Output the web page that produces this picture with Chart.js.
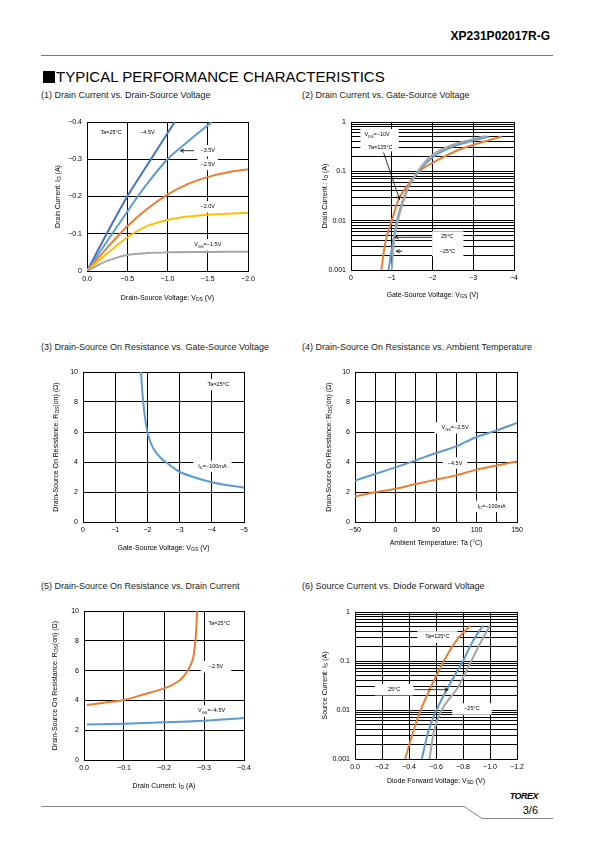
<!DOCTYPE html>
<html>
<head>
<meta charset="utf-8">
<script src="https://cdn.jsdelivr.net/npm/chart.js@4"></script>
<style>
body { margin: 0; background: #fff; }
#page { position: relative; width: 595px; height: 842px; overflow: hidden; font-family: "Liberation Sans", Arial, sans-serif; color: #000; }
.t { position: absolute; white-space: nowrap; line-height: 1; }
.sec { font-size: 9px; color: #222; }
.sq { display: inline-block; width: 12px; height: 12px; background: #000; margin-right: 1px; vertical-align: -1px; }
canvas { position: absolute; }
svg { position: absolute; left: 0; top: 0; }
</style>
</head>
<body>
<div id="page">
  <svg width="595" height="842">
    <line x1="41" y1="55.5" x2="553" y2="55.5" stroke="#777" stroke-width="1"/>
    <polyline points="41,806.5 464,806.5 482,818.5 553,818.5" fill="none" stroke="#888" stroke-width="1"/>
  </svg>
  <div class="t" style="right:45px;top:30px;font-size:12px;font-weight:bold;">XP231P02017R-G</div>
  <div class="t" style="left:43px;top:69px;font-size:15px;"><span class="sq"></span>TYPICAL PERFORMANCE CHARACTERISTICS</div>
  <div class="t sec" style="left:41px;top:91px;">(1) Drain Current vs. Drain-Source Voltage</div>
  <div class="t sec" style="left:302px;top:91px;">(2) Drain Current vs. Gate-Source Voltage</div>
  <div class="t sec" style="left:41px;top:343px;">(3) Drain-Source On Resistance vs. Gate-Source Voltage</div>
  <div class="t sec" style="left:302px;top:343px;">(4) Drain-Source On Resistance vs. Ambient Temperature</div>
  <div class="t sec" style="left:41px;top:582px;">(5) Drain-Source On Resistance vs. Drain Current</div>
  <div class="t sec" style="left:302px;top:582px;">(6) Source Current vs. Diode Forward Voltage</div>
  <div class="t" style="right:57px;top:792px;font-size:9px;font-style:italic;font-weight:bold;letter-spacing:-0.5px;">TOREX</div>
  <div class="t" style="right:57px;top:805px;font-size:11px;">3/6</div>
</div>
<script>
// ---- (1) Drain current vs drain-source voltage
const c1Vds45 = [0, -0.25, -0.5, -0.75, -1.0, -1.09];
const c1Id45 = [0, -0.102, -0.2, -0.285, -0.37, -0.4];
const c1Vds35 = [0, -0.25, -0.5, -0.63, -0.75, -1.0, -1.25, -1.55];
const c1Id35 = [0, -0.08, -0.159, -0.2, -0.235, -0.3, -0.347, -0.4];
const c1Vds25 = [0, -0.25, -0.5, -0.75, -1.0, -1.25, -1.5, -1.75, -2.0];
const c1Id25 = [0, -0.062, -0.12, -0.167, -0.205, -0.233, -0.252, -0.265, -0.273];
const c1Vds20 = [0, -0.25, -0.5, -0.75, -1.0, -1.25, -1.5, -1.75, -2.0];
const c1Id20 = [0, -0.047, -0.09, -0.121, -0.137, -0.146, -0.151, -0.154, -0.156];
const c1Vds15 = [0, -0.1, -0.25, -0.4, -0.5, -0.75, -1.0, -1.5, -2.0];
const c1Id15 = [0, -0.012, -0.027, -0.038, -0.043, -0.048, -0.05, -0.051, -0.052];
const c1XTicks = [0, -0.5, -1, -1.5, -2];
const c1XLabels = ['0.0', '−0.5', '−1.0', '−1.5', '−2.0'];
const c1YTicks = [0, -0.1, -0.2, -0.3, -0.4];
const c1YLabels = ['0', '−0.1', '−0.2', '−0.3', '−0.4'];

// ---- (2) Drain current vs gate-source voltage
const c2Vgs125 = [-0.744, -0.84, -1.0, -1.17, -1.37, -1.68, -2.15, -2.68, -3.7];
const c2Id125 = [0.001, 0.0035, 0.01, 0.0267, 0.0494, 0.1, 0.172, 0.28, 0.51];
const c2Vgs25 = [-0.92, -1.0, -1.13, -1.25, -1.42, -1.66, -2.03, -2.52, -3.38];
const c2Id25 = [0.001, 0.0026, 0.01, 0.0228, 0.0494, 0.1, 0.2, 0.32, 0.51];
const c2VgsM25 = [-1.0, -1.05, -1.15, -1.27, -1.42, -1.64, -1.95, -2.4, -3.0, -3.3];
const c2IdM25 = [0.001, 0.0035, 0.01, 0.0228, 0.0494, 0.1, 0.2, 0.32, 0.45, 0.52];
const c2XTicks = [0, -1, -2, -3, -4];
const c2XLabels = ['0', '−1', '−2', '−3', '−4'];

const logTicks = [0.001, 0.002, 0.003, 0.004, 0.005, 0.006, 0.007, 0.008, 0.009,
  0.01, 0.02, 0.03, 0.04, 0.05, 0.06, 0.07, 0.08, 0.09,
  0.1, 0.2, 0.3, 0.4, 0.5, 0.6, 0.7, 0.8, 0.9, 1];
const logLabels = ['0.001', '', '', '', '', '', '', '', '',
  '0.01', '', '', '', '', '', '', '', '',
  '0.1', '', '', '', '', '', '', '', '', '1'];

// ---- (3) On resistance vs gate-source voltage
const c3Vgs = [-1.8, -1.85, -1.9, -2.0, -2.1, -2.2, -2.4, -2.6, -3.0, -3.5, -4.0, -4.5, -5.0];
const c3Rds = [10, 8.5, 7.4, 6.0, 5.3, 4.85, 4.3, 3.95, 3.35, 2.95, 2.65, 2.45, 2.3];
const c3XTicks = [0, -1, -2, -3, -4, -5];
const c3XLabels = ['0', '−1', '−2', '−3', '−4', '−5'];
const rTicks = [0, 2, 4, 6, 8, 10];
const rLabels = ['0', '2', '4', '6', '8', '10'];

// ---- (4) On resistance vs ambient temperature
const c4Ta = [-50, -25, 0, 25, 50, 75, 100, 125, 150];
const c4Rds25 = [2.76, 3.2, 3.64, 4.11, 4.6, 5.04, 5.67, 6.11, 6.6];
const c4Rds45 = [1.71, 1.98, 2.22, 2.53, 2.82, 3.11, 3.49, 3.76, 4.04];
const c4XTicks = [-50, -25, 0, 25, 50, 75, 100, 125, 150];
const c4XLabels = ['−50', '', '0', '', '50', '', '100', '', '150'];

// ---- (5) On resistance vs drain current
const c5Id25 = [-0.0075, -0.05, -0.1, -0.15, -0.2, -0.22, -0.24, -0.25, -0.26, -0.27, -0.275, -0.28, -0.283];
const c5Rds25 = [3.69, 3.85, 4.03, 4.41, 4.81, 5.03, 5.37, 5.64, 6.04, 6.6, 7.16, 8.5, 10];
const c5Id45 = [-0.0075, -0.1, -0.2, -0.3, -0.4];
const c5Rds45 = [2.39, 2.44, 2.53, 2.64, 2.82];
const c5XTicks = [0, -0.1, -0.2, -0.3, -0.4];
const c5XLabels = ['0.0', '−0.1', '−0.2', '−0.3', '−0.4'];

// ---- (6) Source current vs diode forward voltage
const c6Vsd125 = [-0.371, -0.428, -0.488, -0.564, -0.656, -0.755, -0.854];
const c6Is125 = [0.001, 0.0034, 0.0102, 0.0303, 0.098, 0.27, 0.53];
const c6Vsd25 = [-0.495, -0.54, -0.594, -0.693, -0.792, -0.879, -0.948];
const c6Is25 = [0.001, 0.0034, 0.0087, 0.0303, 0.091, 0.27, 0.53];
const c6VsdM25 = [-0.552, -0.582, -0.631, -0.767, -0.854, -0.928, -1.0];
const c6IsM25 = [0.001, 0.0034, 0.0087, 0.0303, 0.091, 0.233, 0.53];
const c6XTicks = [0, -0.2, -0.4, -0.6, -0.8, -1.0, -1.2];
const c6XLabels = ['0.0', '−0.2', '−0.4', '−0.6', '−0.8', '−1.0', '−1.2'];

const BLUE_D = '#4472C4', BLUE = '#5B9BD5', ORANGE = '#ED7D31', YELLOW = '#FFC000', GRAY = '#A5A5A5';
const FONT = '"Liberation Sans", Arial, sans-serif';
const NOTE = 5.5, TITLE = 7;
const PL = 62, PT = 12, PR = 24, PB = 42;

Chart.defaults.font.family = FONT;
Chart.defaults.font.size = 7;
Chart.defaults.color = '#000';

function xy(xs, ys) { return xs.map((x, i) => ({ x: x, y: ys[i] })); }
function line(xs, ys, color) {
    return { data: xy(xs, ys), borderColor: color, borderWidth: 2, pointRadius: 0, fill: false, cubicInterpolationMode: 'monotone' };
}

// text with _{sub} parts
function parts(str) {
    const out = [];
    const re = /_\{([^}]*)\}/g;
    let last = 0, m;
    while ((m = re.exec(str))) {
        if (m.index > last) out.push([str.slice(last, m.index), false]);
        out.push([m[1], true]);
        last = re.lastIndex;
    }
    if (last < str.length) out.push([str.slice(last), false]);
    return out;
}
function richWidth(ctx, str, size) {
    let w = 0;
    parts(str).forEach(([t, sub]) => {
        ctx.font = (sub ? size * 0.72 : size) + 'px ' + FONT;
        w += ctx.measureText(t).width;
    });
    return w;
}
function drawRich(ctx, str, x, y, size) {
    let cx = x - richWidth(ctx, str, size) / 2;
    ctx.textAlign = 'left';
    ctx.textBaseline = 'middle';
    parts(str).forEach(([t, sub]) => {
        ctx.font = (sub ? size * 0.72 : size) + 'px ' + FONT;
        ctx.fillText(t, cx, sub ? y + size * 0.3 : y);
        cx += ctx.measureText(t).width;
    });
}

function notesPlugin(n) {
    return {
        id: 'notes',
        beforeDatasetsDraw(chart) {
            const { ctx, scales: { x, y } } = chart;
            ctx.save();
            ctx.fillStyle = '#fff';
            (n.boxes || []).forEach(b => {
                const x1 = x.getPixelForValue(b[0]), y1 = y.getPixelForValue(b[1]);
                const x2 = x.getPixelForValue(b[2]), y2 = y.getPixelForValue(b[3]);
                ctx.fillRect(Math.min(x1, x2), Math.min(y1, y2), Math.abs(x2 - x1), Math.abs(y2 - y1));
            });
            (n.labels || []).forEach(l => {
                if (l.box === false) return;
                const w = richWidth(ctx, l.text, NOTE);
                const px = x.getPixelForValue(l.x), py = y.getPixelForValue(l.y);
                const padX = l.padX !== undefined ? l.padX : 3;
                ctx.fillRect(px - w / 2 - padX, py - NOTE / 2 - 3, w + 2 * padX, NOTE + 6);
            });
            ctx.restore();
        },
        afterDatasetsDraw(chart) {
            const { ctx, scales: { x, y } } = chart;
            ctx.save();
            ctx.fillStyle = '#000';
            ctx.strokeStyle = '#000';
            ctx.lineWidth = 0.8;
            (n.arrows || []).forEach(a => {
                const x1 = x.getPixelForValue(a[0]), y1 = y.getPixelForValue(a[1]);
                const x2 = x.getPixelForValue(a[2]), y2 = y.getPixelForValue(a[3]);
                const ang = Math.atan2(y2 - y1, x2 - x1);
                ctx.beginPath();
                ctx.moveTo(x1, y1);
                ctx.lineTo(x2, y2);
                ctx.stroke();
                ctx.beginPath();
                ctx.moveTo(x2, y2);
                ctx.lineTo(x2 - 4 * Math.cos(ang - 0.45), y2 - 4 * Math.sin(ang - 0.45));
                ctx.moveTo(x2, y2);
                ctx.lineTo(x2 - 4 * Math.cos(ang + 0.45), y2 - 4 * Math.sin(ang + 0.45));
                ctx.stroke();
            });
            (n.labels || []).forEach(l => {
                drawRich(ctx, l.text, x.getPixelForValue(l.x), y.getPixelForValue(l.y), NOTE);
            });
            ctx.restore();
        },
        afterDraw(chart) {
            const { ctx, chartArea: a } = chart;
            ctx.save();
            ctx.fillStyle = '#000';
            drawRich(ctx, n.xTitle, (a.left + a.right) / 2, a.bottom + n.xOff, TITLE);
            ctx.translate(a.left - n.yOff, (a.top + a.bottom) / 2);
            ctx.rotate(-Math.PI / 2);
            drawRich(ctx, n.yTitle, 0, 0, TITLE);
            ctx.restore();
        }
    };
}

function axis(d, which) {
    return {
        type: d.log ? 'logarithmic' : 'linear',
        min: d.min,
        max: d.max,
        reverse: !!d.reverse,
        afterBuildTicks: s => { s.ticks = d.ticks.map(v => ({ value: v })); },
        afterFit: s => { if (which === 'x') s.height = PB; else s.width = PL; },
        ticks: {
            autoSkip: false,
            maxRotation: 0,
            padding: which === 'x' ? 4 : 5,
            callback: v => { const i = d.ticks.indexOf(v); return i >= 0 ? d.labels[i] : ''; }
        },
        grid: { color: '#000', lineWidth: 1, drawTicks: false },
        border: { color: '#000', width: 1 }
    };
}

function makeChart(area, cfg) {
    const c = document.createElement('canvas');
    c.width = area.r - area.l + PL + PR;
    c.height = area.b - area.t + PT + PB;
    c.style.left = (area.l - PL) + 'px';
    c.style.top = (area.t - PT) + 'px';
    document.getElementById('page').appendChild(c);
    return new Chart(c.getContext('2d'), {
        type: 'line',
        data: { datasets: cfg.datasets },
        options: {
            responsive: false,
            animation: false,
            parsing: false,
            layout: { padding: { left: 0, top: PT, right: PR, bottom: 0 } },
            plugins: { legend: { display: false }, tooltip: { enabled: false } },
            scales: { x: axis(cfg.x, 'x'), y: axis(cfg.y, 'y') }
        },
        plugins: [notesPlugin(cfg.notes)]
    });
}

makeChart({ l: 87, t: 122, r: 248, b: 271 }, {
    datasets: [
        line(c1Vds15, c1Id15, GRAY),
        line(c1Vds20, c1Id20, YELLOW),
        line(c1Vds25, c1Id25, ORANGE),
        line(c1Vds35, c1Id35, BLUE),
        line(c1Vds45, c1Id45, BLUE_D)
    ],
    x: { min: -2, max: 0, reverse: true, ticks: c1XTicks, labels: c1XLabels },
    y: { min: -0.4, max: 0, reverse: true, ticks: c1YTicks, labels: c1YLabels },
    notes: {
        xTitle: 'Drain-Source Voltage: V_{DS} (V)', xOff: 27,
        yTitle: 'Drain Current: I_{D} (A)', yOff: 29,
        labels: [
            { x: -0.30, y: -0.373, text: 'Ta=25°C' },
            { x: -0.75, y: -0.373, text: '−4.5V' },
            { x: -1.50, y: -0.323, text: '−3.5V' },
            { x: -1.50, y: -0.286, text: '−2.5V' },
            { x: -1.50, y: -0.172, text: '−2.0V' },
            { x: -1.50, y: -0.070, text: 'V_{GS}=−1.5V' }
        ],
        arrows: [[-1.33, -0.323, -1.16, -0.323]]
    }
});

makeChart({ l: 351, t: 122, r: 514, b: 270 }, {
    datasets: [
        line(c2VgsM25, c2IdM25, GRAY),
        line(c2Vgs25, c2Id25, BLUE),
        line(c2Vgs125, c2Id125, ORANGE)
    ],
    x: { min: -4, max: 0, reverse: true, ticks: c2XTicks, labels: c2XLabels },
    y: { log: true, min: 0.001, max: 1, ticks: logTicks, labels: logLabels },
    notes: {
        xTitle: 'Gate-Source Voltage: V_{GS} (V)', xOff: 25,
        yTitle: 'Drain Current : I_{D} (A)', yOff: 26,
        boxes: [[-0.23, 0.72, -1.17, 0.254], [-1.99, 0.0061, -2.76, 0.0019]],
        labels: [
            { x: -0.64, y: 0.55, text: 'V_{DS}=−10V', box: false },
            { x: -0.72, y: 0.31, text: 'Ta=125°C', box: false },
            { x: -2.36, y: 0.0047, text: '25°C', box: false },
            { x: -2.36, y: 0.0024, text: '−25°C', box: false }
        ],
        arrows: [[-0.80, 0.24, -1.19, 0.027], [-1.99, 0.0046, -1.08, 0.0046], [-1.26, 0.0024, -1.11, 0.0024]]
    }
});

makeChart({ l: 83, t: 372, r: 244, b: 522 }, {
    datasets: [line(c3Vgs, c3Rds, BLUE)],
    x: { min: -5, max: 0, reverse: true, ticks: c3XTicks, labels: c3XLabels },
    y: { min: 0, max: 10, ticks: rTicks, labels: rLabels },
    notes: {
        xTitle: 'Gate-Source Voltage: V_{GS} (V)', xOff: 26,
        yTitle: 'Drain-Source On Resistance: R_{DS}(on) (Ω)', yOff: 27,
        labels: [
            { x: -4.2, y: 9.16, text: 'Ta=25°C' },
            { x: -4.02, y: 3.71, text: 'I_{D}=−100mA', padX: 5 }
        ]
    }
});

makeChart({ l: 355, t: 372, r: 517, b: 522 }, {
    datasets: [line(c4Ta, c4Rds25, BLUE), line(c4Ta, c4Rds45, ORANGE)],
    x: { min: -50, max: 150, ticks: c4XTicks, labels: c4XLabels },
    y: { min: 0, max: 10, ticks: rTicks, labels: rLabels },
    notes: {
        xTitle: 'Ambient Temperature: Ta (°C)', xOff: 21,
        yTitle: 'Drain-Source On Resistance: R_{DS}(on) (Ω)', yOff: 26,
        labels: [
            { x: 73.5, y: 6.27, text: 'V_{GS}=−2.5V', padX: 7 },
            { x: 73.5, y: 3.93, text: '−4.5V', padX: 5 },
            { x: 118.7, y: 1.04, text: 'I_{D}=−100mA', padX: 3 }
        ]
    }
});

makeChart({ l: 84, t: 611, r: 244, b: 760 }, {
    datasets: [line(c5Id45, c5Rds45, BLUE), line(c5Id25, c5Rds25, ORANGE)],
    x: { min: -0.4, max: 0, reverse: true, ticks: c5XTicks, labels: c5XLabels },
    y: { min: 0, max: 10, ticks: rTicks, labels: rLabels },
    notes: {
        xTitle: 'Drain Current: I_{D} (A)', xOff: 26,
        yTitle: 'Drain-Source On Resistance: R_{DS}(on) (Ω)', yOff: 29,
        labels: [
            { x: -0.338, y: 9.13, text: 'Ta=25°C' },
            { x: -0.33, y: 6.26, text: '−2.5V', padX: 8 },
            { x: -0.319, y: 3.29, text: 'V_{GS}=−4.5V', padX: 6 }
        ]
    }
});

makeChart({ l: 355, t: 612, r: 517, b: 759 }, {
    datasets: [
        line(c6VsdM25, c6IsM25, GRAY),
        line(c6Vsd25, c6Is25, BLUE),
        line(c6Vsd125, c6Is125, ORANGE)
    ],
    x: { min: -1.2, max: 0, reverse: true, ticks: c6XTicks, labels: c6XLabels },
    y: { log: true, min: 0.001, max: 1, ticks: logTicks, labels: logLabels },
    notes: {
        xTitle: 'Diode Forward Voltage: V_{SD} (V)', xOff: 22,
        yTitle: 'Source Current: I_{S} (A)', yOff: 30,
        labels: [
            { x: -0.61, y: 0.31, text: 'Ta=125°C', padX: 8 },
            { x: -0.29, y: 0.026, text: '25°C', padX: 13 },
            { x: -0.866, y: 0.0105, text: '−25°C', padX: 12 }
        ],
        arrows: [[-0.44, 0.026, -0.69, 0.026]]
    }
});
</script>
</body>
</html>
